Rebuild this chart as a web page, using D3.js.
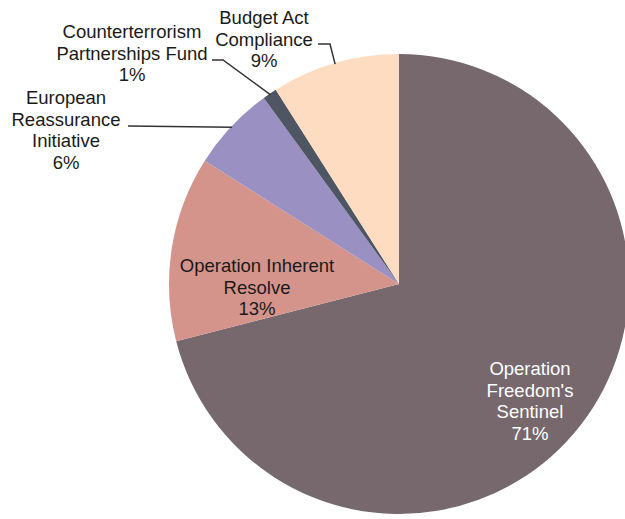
<!DOCTYPE html>
<html>
<head>
<meta charset="utf-8">
<script src="https://cdnjs.cloudflare.com/ajax/libs/d3/7.8.5/d3.min.js"></script>
<style>
  html, body { margin: 0; padding: 0; background: #ffffff; }
  svg { display: block; }
  text { font-family: "Liberation Sans", Arial, Helvetica, sans-serif; }
</style>
</head>
<body>
<svg id="chart" width="625" height="519"></svg>
<script>
// Share of overseas contingency operations funding, by category (%)
const categories = [
  "Operation Freedom's Sentinel",
  "Operation Inherent Resolve",
  "European Reassurance Initiative",
  "Counterterrorism Partnerships Fund",
  "Budget Act Compliance"
];
const shares = [71, 13, 6, 1, 9];
const labelLines = [
  ["Operation", "Freedom's", "Sentinel"],
  ["Operation Inherent", "Resolve"],
  ["European", "Reassurance", "Initiative"],
  ["Counterterrorism", "Partnerships Fund"],
  ["Budget Act", "Compliance"]
];
const colors = ["#76686c", "#d4948c", "#9a90c2", "#4e5664", "#fddcc2"];

const width = 625, height = 519;
const cx = 399, cy = 284, radius = 230;
const fontSize = 18.5, lineGap = 21.5;

const svg = d3.select("#chart");
const g = svg.append("g").attr("transform", `translate(${cx},${cy})`);

const pie = d3.pie().sort(null).value(d => d.value).startAngle(0).endAngle(2 * Math.PI);
const data = categories.map((c, i) => ({ name: c, value: shares[i], lines: labelLines[i], color: colors[i] }));
const arcs = pie(data);
const arc = d3.arc().innerRadius(0).outerRadius(radius);

g.selectAll("path.slice")
  .data(arcs)
  .join("path")
  .attr("class", "slice")
  .attr("d", arc)
  .attr("fill", d => d.data.color);

// Point on the pie edge (or at a given radius) at the middle of a slice
function edgePoint(a, r) {
  const t = (a.startAngle + a.endAngle) / 2;
  return [cx + r * Math.sin(t), cy - r * Math.cos(t)];
}

// Label layout: block centre x, first baseline y, text colour,
// and leader line start (text side) if the label sits outside the pie
const layout = [
  { x: 530, y: 375, fill: "#ffffff" },
  { x: 257, y: 272, fill: "#1a1a1a" },
  { x: 66, y: 104, fill: "#1a1a1a", lead: [[128, 126]], r: radius - 1 },
  { x: 132, y: 38, fill: "#1a1a1a", lead: [[212, 60], [223, 60]], r: radius - 1 },
  { x: 264, y: 24, fill: "#1a1a1a", lead: [[318, 44], [330, 44]], r: radius - 1 }
];

arcs.forEach((a, i) => {
  const L = layout[i];
  const lines = a.data.lines.concat([a.data.value + "%"]);
  const t = svg.append("text")
    .attr("text-anchor", "middle")
    .attr("font-size", fontSize)
    .attr("fill", L.fill);
  lines.forEach((s, k) => {
    t.append("tspan").attr("x", L.x).attr("y", L.y + k * lineGap).text(s);
  });
  if (L.lead) {
    const pts = L.lead.concat([edgePoint(a, L.r)]);
    svg.append("path")
      .attr("d", d3.line()(pts))
      .attr("fill", "none")
      .attr("stroke", "#333333")
      .attr("stroke-width", 1.5);
  }
});
</script>
</body>
</html>
